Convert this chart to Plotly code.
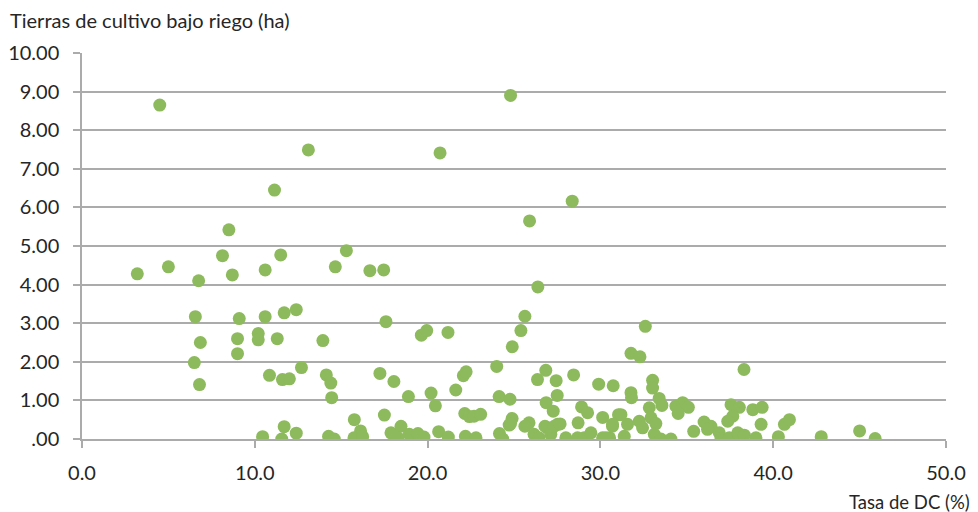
import plotly.graph_objects as go

tasa_dc = [
    4.5, 3.2, 5.0, 6.75, 8.13, 8.5, 8.7, 6.56, 9.1, 9.0, 6.85, 6.5, 6.8, 9.0, 10.2, 10.2, 10.6, 10.6,
    11.14, 11.5, 11.3, 11.7, 12.4, 13.1, 10.85, 11.6, 12.0, 12.7, 10.45, 11.56, 11.7, 12.4,
    13.94, 14.14, 14.4, 14.45,
    24.8, 20.72, 28.37, 25.9, 15.3, 14.66, 16.66, 17.46,
    26.38, 17.59, 25.63, 25.4, 24.9, 19.64, 19.95, 21.18,
    17.24, 18.05, 18.89, 20.2, 20.45, 21.63, 22.07, 22.23, 24.0, 24.14, 24.77,
    17.5, 15.76, 22.15, 22.42, 22.69, 23.07,
    26.36, 26.84, 27.44, 28.45, 29.9, 30.74, 26.86, 27.5, 27.27, 28.91, 29.26, 30.13, 31.05,
    28.71, 27.52, 26.94, 25.87, 24.89, 24.72, 25.63,
    16.12, 15.74, 16.24, 14.27, 14.6, 17.88, 18.46, 18.28, 18.05, 18.94, 19.44, 19.79, 20.64,
    21.2, 22.19, 22.8, 24.16, 24.35, 24.8, 26.16, 26.45, 26.79, 27.13, 27.33, 27.67, 28.0,
    28.68, 29.06, 29.45, 30.13, 30.53, 30.7,
    32.6, 31.77, 32.29, 38.31, 31.77, 31.8, 33.02, 33.02, 33.4, 33.56, 32.83, 32.93, 33.21,
    34.37, 34.76, 35.09, 34.5, 31.19, 30.7, 31.57, 32.25, 32.44, 30.32, 31.38, 33.12, 33.5,
    34.08, 35.4, 36.0, 36.4, 36.2, 36.88, 36.98, 37.56, 38.04, 37.66, 37.37, 37.46, 37.95,
    38.33, 38.82, 39.36, 39.3, 39.0, 40.3, 40.65, 40.94, 42.78, 45.0, 45.9,
]

tierras_riego = [
    8.65, 4.28, 4.46, 4.10, 4.75, 5.42, 4.25, 3.17, 3.12, 2.6, 2.5, 1.98, 1.41, 2.21, 2.73, 2.57, 3.17,
    4.38, 6.45, 4.77, 2.6, 3.27, 3.35, 7.49, 1.65, 1.54, 1.56, 1.85, 0.06, 0.0, 0.32, 0.15,
    2.55, 1.66, 1.45, 1.07,
    8.9, 7.41, 6.16, 5.65, 4.88, 4.46, 4.36, 4.38,
    3.94, 3.04, 3.18, 2.81, 2.39, 2.69, 2.81, 2.76,
    1.70, 1.49, 1.10, 1.19, 0.86, 1.27, 1.64, 1.74, 1.88, 1.10, 1.03,
    0.62, 0.50, 0.66, 0.58, 0.59, 0.64,
    1.54, 1.78, 1.51, 1.66, 1.42, 1.38, 0.94, 1.13, 0.72, 0.83, 0.68, 0.56, 0.63,
    0.42, 0.38, 0.29, 0.42, 0.53, 0.36, 0.33,
    0.21, 0.03, 0.06, 0.07, 0.0, 0.16, 0.33, 0.03, 0.10, 0.12, 0.14, 0.05, 0.19,
    0.05, 0.07, 0.03, 0.14, 0.0, 0.40, 0.12, 0.03, 0.33, 0.12, 0.33, 0.39, 0.03,
    0.03, 0.03, 0.16, 0.03, 0.03, 0.33,
    2.92, 2.22, 2.13, 1.80, 1.20, 1.07, 1.52, 1.32, 1.05, 0.87, 0.81, 0.55, 0.40,
    0.85, 0.94, 0.82, 0.66, 0.63, 0.38, 0.38, 0.46, 0.29, 0.03, 0.07, 0.12, 0.0,
    0.0, 0.2, 0.44, 0.33, 0.25, 0.16, 0.0, 0.89, 0.82, 0.59, 0.46, 0.03, 0.16,
    0.10, 0.76, 0.82, 0.38, 0.03, 0.06, 0.38, 0.50, 0.06, 0.21, 0.01,
]

y_ticks = [0, 1, 2, 3, 4, 5, 6, 7, 8, 9, 10]
y_tick_labels = [".00", "1.00", "2.00", "3.00", "4.00", "5.00", "6.00", "7.00", "8.00", "9.00", "10.00"]
x_ticks = [0, 10, 20, 30, 40, 50]
x_tick_labels = ["0.0", "10.0", "20.0", "30.0", "40.0", "50.0"]

FONT = "Lato, Open Sans, sans-serif"
GRID = "#ABABAB"
TEXT = "#262626"

fig = go.Figure()
fig.add_trace(go.Scatter(
    x=tasa_dc, y=tierras_riego, mode="markers",
    marker=dict(size=13, color="#8DBA5C", line=dict(width=0)),
    hoverinfo="x+y", showlegend=False,
))

fig.update_layout(
    width=970, height=504,
    margin=dict(l=74, r=32, t=45, b=73, autoexpand=False),
    paper_bgcolor="white", plot_bgcolor="white",
    font=dict(family=FONT, color=TEXT),
    xaxis=dict(
        range=[0, 50], tickvals=x_ticks, ticktext=x_tick_labels,
        showgrid=False, zeroline=False, automargin=False,
        showline=True, linecolor=GRID, linewidth=1.5,
        ticks="outside", ticklen=7, tickcolor=GRID, tickwidth=1.5,
        ticklabelstandoff=8,
        tickfont=dict(size=20, family=FONT, color=TEXT), fixedrange=True,
    ),
    yaxis=dict(
        range=[0, 10], tickvals=y_ticks, ticktext=y_tick_labels,
        showgrid=True, gridcolor=GRID, gridwidth=1.5, zeroline=False, automargin=False,
        showline=True, linecolor=GRID, linewidth=1.5,
        ticks="outside", ticklen=7, tickcolor=GRID, tickwidth=1.5,
        ticklabelstandoff=10,
        tickfont=dict(size=20, family=FONT, color=TEXT), fixedrange=True,
    ),
    annotations=[
        dict(text="Tierras de cultivo bajo riego (ha)", xref="paper", yref="paper",
             x=0, y=1.0, xshift=-74, yshift=33, xanchor="left", yanchor="middle",
             showarrow=False, font=dict(size=20, family=FONT, color=TEXT)),
        dict(text="Tasa de DC (%)", xref="paper", yref="paper",
             x=1.0, y=0.0, xshift=26, yshift=-63, xanchor="right", yanchor="middle",
             showarrow=False, font=dict(size=18.5, family=FONT, color=TEXT)),
    ],
)

fig.write_html("out.html")
